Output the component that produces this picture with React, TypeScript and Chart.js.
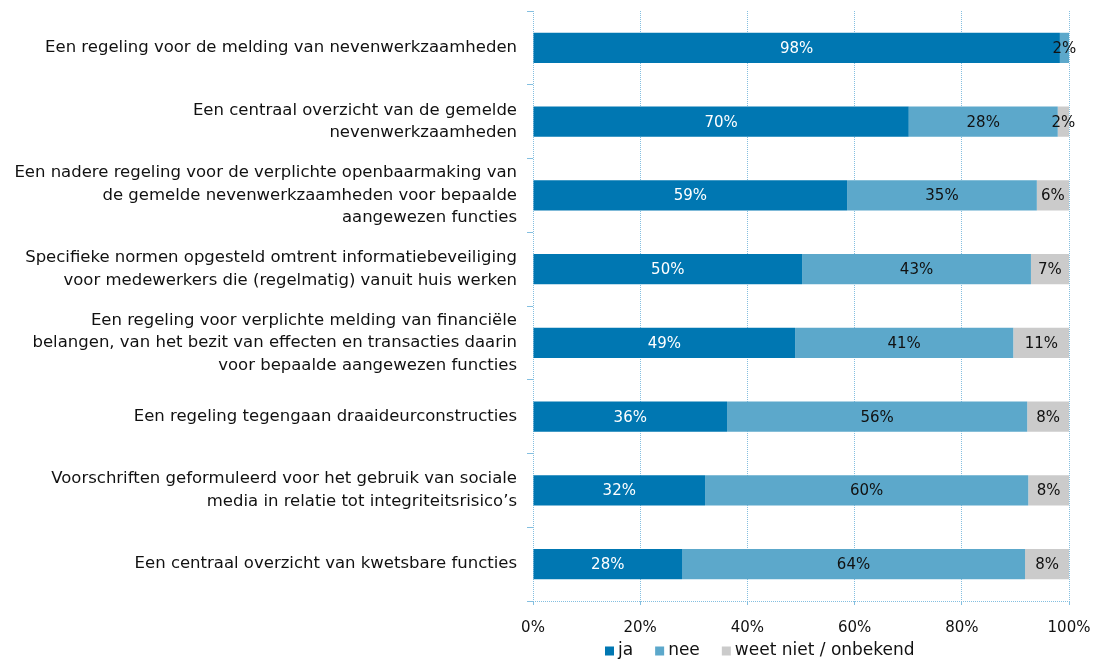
import React, { useEffect, useRef } from "react";
import { Chart, registerables } from "chart.js";

Chart.register(...registerables);

const categories: string[][] = [
  ["Een regeling voor de melding van nevenwerkzaamheden"],
  ["Een centraal overzicht van de gemelde", "nevenwerkzaamheden"],
  ["Een nadere regeling voor de verplichte openbaarmaking van", "de gemelde nevenwerkzaamheden voor bepaalde", "aangewezen functies"],
  ["Specifieke normen opgesteld omtrent informatiebeveiliging", "voor medewerkers die (regelmatig) vanuit huis werken"],
  ["Een regeling voor verplichte melding van financiële", "belangen, van het bezit van effecten en transacties daarin", "voor bepaalde aangewezen functies"],
  ["Een regeling tegengaan draaideurconstructies"],
  ["Voorschriften geformuleerd voor het gebruik van sociale", "media in relatie tot integriteitsrisico’s"],
  ["Een centraal overzicht van kwetsbare functies"],
];

const seriesNames = ["ja", "nee", "weet niet / onbekend"];
const jaValues = [98.3, 70.1, 58.6, 50.2, 48.9, 36.2, 32.1, 27.8];
const neeValues = [1.7, 27.8, 35.4, 42.7, 40.7, 56.0, 60.3, 64.0];
const weetValues = [0, 2.1, 6.0, 7.1, 10.5, 7.8, 7.6, 8.2];
const seriesColors = ["#0077b2", "#5ca8cb", "#cbcbcb"];
const labelColors = ["#ffffff", "#111111", "#111111"];
const xTicks = [0, 20, 40, 60, 80, 100];

const FONT = "'DejaVu Sans', sans-serif";
const gridColor = "#84bfe0";

const barLabelPlugin = {
  id: "barLabels",
  afterDatasetsDraw(chart: any) {
    const ctx = chart.ctx;
    ctx.save();
    ctx.font = `15px ${FONT}`;
    ctx.textAlign = "center";
    ctx.textBaseline = "middle";
    chart.data.datasets.forEach((ds: any, di: number) => {
      const meta = chart.getDatasetMeta(di);
      meta.data.forEach((bar: any, i: number) => {
        const v = ds.data[i];
        if (!v || v < 1) return;
        const cx = (bar.x + bar.base) / 2;
        ctx.fillStyle = labelColors[di];
        ctx.fillText(Math.round(v) + "%", cx, bar.y + 1);
      });
    });
    ctx.restore();
  },
};

const legendPlugin = {
  id: "customLegend",
  afterDraw(chart: any) {
    const ctx = chart.ctx;
    const area = chart.chartArea;
    ctx.save();
    ctx.font = `17px ${FONT}`;
    ctx.textBaseline = "middle";
    ctx.textAlign = "left";
    let x = area.left + 72;
    const y = 651;
    chart.data.datasets.forEach((ds: any) => {
      ctx.fillStyle = ds.backgroundColor;
      ctx.fillRect(x, y - 4.5, 9, 9);
      x += 13;
      ctx.fillStyle = "#111111";
      ctx.fillText(ds.label, x, y);
      x += ctx.measureText(ds.label).width + 22;
    });
    ctx.restore();
  },
};

export default function App() {
  const ref = useRef<HTMLCanvasElement | null>(null);

  useEffect(() => {
    if (!ref.current) return;
    const values = [jaValues, neeValues, weetValues];
    const chart = new Chart(ref.current, {
      type: "bar",
      data: {
        labels: categories,
        datasets: values.map((d, i) => ({
          label: seriesNames[i],
          data: d,
          backgroundColor: seriesColors[i],
          borderWidth: 0,
          barPercentage: 0.41,
          categoryPercentage: 1,
        })),
      },
      options: {
        indexAxis: "y",
        animation: false,
        responsive: true,
        maintainAspectRatio: false,
        layout: { padding: { top: 11, right: 26, bottom: 0, left: 0 } },
        plugins: {
          legend: { display: false },
          tooltip: { enabled: false },
        },
        scales: {
          x: {
            stacked: true,
            min: 0,
            max: 100,
            afterBuildTicks(scale: any) {
              scale.ticks = xTicks.map((v) => ({ value: v }));
            },
            afterFit(scale: any) {
              scale.height = 59;
              scale.paddingLeft = 0;
              scale.paddingRight = 0;
            },
            ticks: {
              callback: (v: any) => v + "%",
              color: "#111111",
              font: { family: FONT, size: 15 },
              padding: 14,
            },
            grid: {
              color: gridColor,
              lineWidth: 1,
              tickLength: 4,
            },
            border: { display: false, dash: [1, 1] },
          },
          y: {
            stacked: true,
            afterFit(scale: any) {
              scale.width = 533;
              scale.paddingTop = 0;
              scale.paddingBottom = 0;
            },
            ticks: {
              color: "#111111",
              font: { family: FONT, size: 16.5, lineHeight: 1.36 },
              padding: 10,
              autoSkip: false,
            },
            grid: {
              offset: true,
              color: (c: any) =>
                c.index === undefined || c.index >= categories.length ? gridColor : "rgba(0,0,0,0)",
              tickColor: gridColor,
              tickLength: 6,
              lineWidth: 1,
            },
            border: { display: false, dash: [1, 1] },
          },
        },
      },
      plugins: [barLabelPlugin, legendPlugin],
    });
    return () => chart.destroy();
  }, []);

  return (
    <div style={{ position: "fixed", left: 0, top: 0, width: 1095, height: 660, background: "#fff" }}>
      <canvas ref={ref} />
    </div>
  );
}
